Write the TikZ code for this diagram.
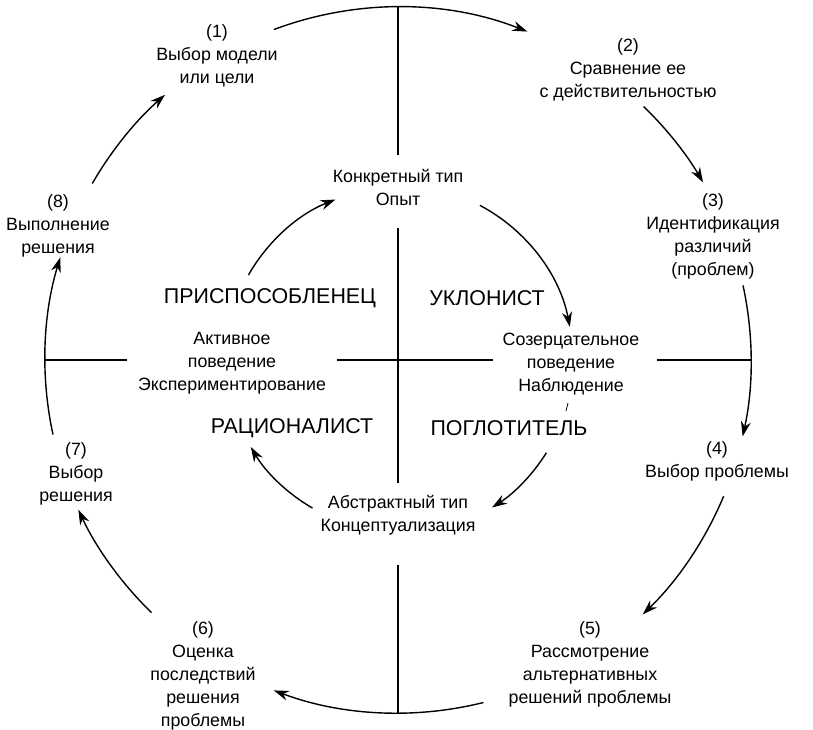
\documentclass[tikz,border=0pt]{standalone}
\usepackage{fontspec}
\setmainfont{Liberation Sans}
\usetikzlibrary{arrows.meta}
\begin{document}
\begin{tikzpicture}[x=1pt,y=1pt,
  lbl/.style={align=center, font=\fontsize{17.8}{23}\selectfont, inner sep=0pt},
  caps/.style={font=\fontsize{21.4}{25}\selectfont, inner sep=0pt},
  flow/.style={line width=1.4pt, -{Stealth[length=15pt,width=10pt]}},
  axisline/.style={line width=1.1pt}]
\useasboundingbox (0,0) rectangle (813,730);
\coordinate (C) at (398,370);

% decision cycle stages
\node[lbl] (n1) at (217,674) {(1)\\Выбор модели\\или цели};
\node[lbl] (n2) at (628,660) {(2)\\Сравнение ее\\с действительностью};
\node[lbl] (n3) at (713,494) {(3)\\Идентификация\\различий\\(проблем)};
\node[lbl] (n4) at (717,269) {(4)\\Выбор проблемы};
\node[lbl] (n5) at (590,66) {(5)\\Рассмотрение\\альтернативных\\решений проблемы};
\node[lbl] (n6) at (203,54) {(6)\\Оценка\\последствий\\решения\\проблемы};
\node[lbl] (n7) at (76,256) {(7)\\Выбор\\решения};
\node[lbl] (n8) at (58,504) {(8)\\Выполнение\\решения};

% learning style poles
\node[lbl] (conc) at (398,543) {Конкретный тип\\Опыт};
\node[lbl] (abst) at (398,215) {Абстрактный тип\\Концептуализация};
\node[lbl] (act) at (232,367) {Активное\\поведение\\Экспериментирование};
\node[lbl] (cont) at (571,366) {Созерцательное\\поведение\\Наблюдение};

% quadrant names
\node[caps] (prisp) at (270,432) {ПРИСПОСОБЛЕНЕЦ};
\node[caps] (uklon) at (487,432) {УКЛОНИСТ};
\node[caps] (rac) at (292,302) {РАЦИОНАЛИСТ};
\node[caps] (pogl) at (509,302) {ПОГЛОТИТЕЛЬ};

% axes
\coordinate (vtop) at (398,723);
\coordinate (vca) at (398,575);
\coordinate (vcb) at (398,502);
\coordinate (vab) at (398,247);
\coordinate (vaa) at (398,165);
\coordinate (vbot) at (398,17);
\coordinate (hl) at (45,370);
\coordinate (hla) at (127,370);
\coordinate (hlb) at (337,370);
\coordinate (hrb) at (493,370);
\coordinate (hra) at (657,370);
\coordinate (hr) at (751,370);
\draw[axisline] (vtop) -- (vca);
\draw[axisline] (vcb) -- (vab);
\draw[axisline] (vaa) -- (vbot);
\draw[axisline] (hl) -- (hla);
\draw[axisline] (hlb) -- (hrb);
\draw[axisline] (hra) -- (hr);
\coordinate (tk1) at (566,319);
\coordinate (tk2) at (568,327);
\draw[line width=0.8pt] (tk1) -- (tk2);

% outer cycle arcs
\coordinate (o12) at ([shift={(110.6:353)}]C);
\coordinate (o23) at ([shift={(45.9:353)}]C);
\coordinate (o34) at ([shift={(12.2:353)}]C);
\coordinate (o45) at ([shift={(-22.7:353)}]C);
\coordinate (o56) at ([shift={(-76:353)}]C);
\coordinate (o67) at ([shift={(-134.3:353)}]C);
\coordinate (o78) at ([shift={(-167.8:353)}]C);
\coordinate (o81) at ([shift={(150:353)}]C);
\draw[flow] (o12) arc[start angle=110.6, end angle=68.5, radius=353];
\draw[flow] (o23) arc[start angle=45.9, end angle=30.2, radius=353];
\draw[flow] (o34) arc[start angle=12.2, end angle=-12.5, radius=353];
\draw[flow] (o45) arc[start angle=-22.7, end angle=-46.1, radius=353];
\draw[flow] (o56) arc[start angle=-76, end angle=-110.6, radius=353];
\draw[flow] (o67) arc[start angle=-134.3, end angle=-154.9, radius=353];
\draw[flow] (o78) arc[start angle=-167.8, end angle=-196.9, radius=353];
\draw[flow] (o81) arc[start angle=150, end angle=131.3, radius=353];

% inner learning cycle arcs
\coordinate (i1) at ([shift={(150.4:172)}]C);
\coordinate (i2) at ([shift={(62.1:175)}]C);
\coordinate (i3) at ([shift={(-32:175)}]C);
\coordinate (i4) at ([shift={(-120:171)}]C);
\draw[flow] (i1) arc[start angle=150.4, end angle=111.5, radius=173];
\draw[flow] (i2) arc[start angle=62.1, end angle=10.9, radius=175];
\draw[flow] (i3) arc[start angle=-32, end angle=-57.6, radius=174];
\draw[flow] (i4) arc[start angle=-120, end angle=-149.4, radius=171];
\end{tikzpicture}
\end{document}
